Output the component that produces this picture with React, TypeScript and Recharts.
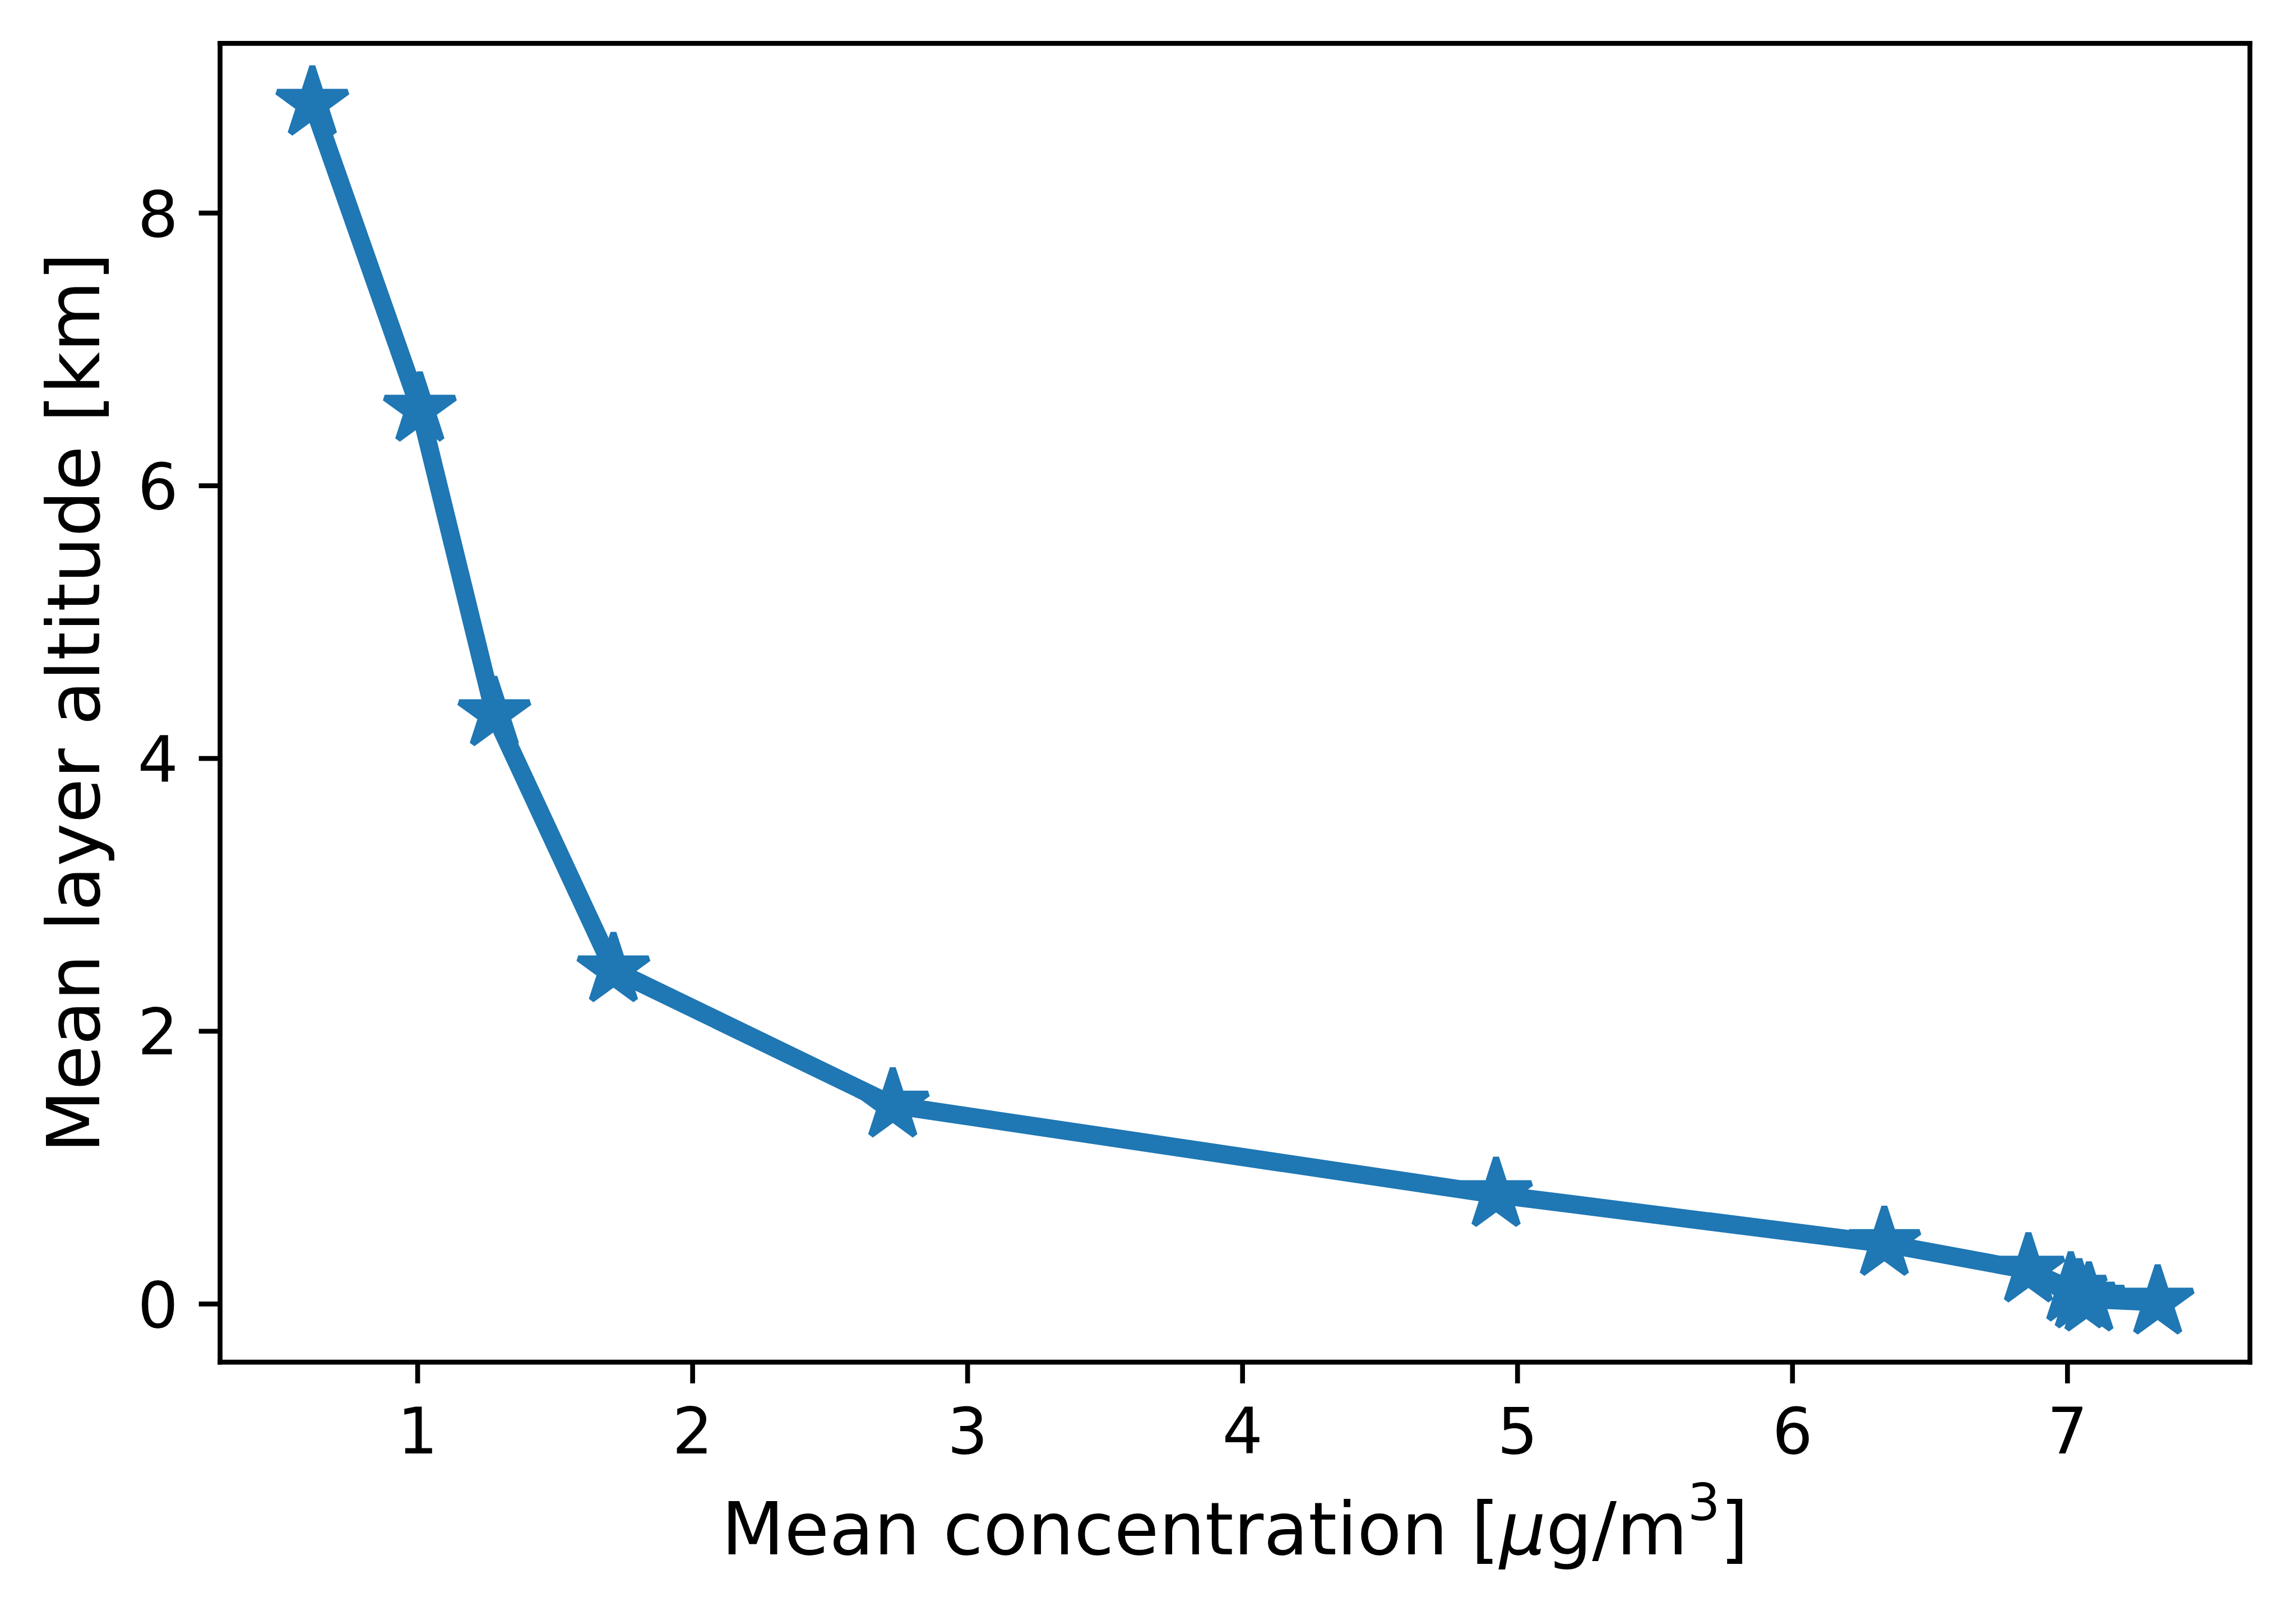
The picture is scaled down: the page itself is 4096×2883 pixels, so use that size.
import React from 'react';
import { LineChart, Line, XAxis, YAxis, ReferenceLine } from 'recharts';

// Mean concentration [µg/m3] (x) and mean layer altitude [km] (y)
const concentration = [0.617, 1.008, 1.279, 1.712, 2.728, 4.922, 6.334, 6.858, 7.012, 7.043, 7.078, 7.328];
const altitude = [8.805, 6.561, 4.328, 2.45, 1.458, 0.802, 0.443, 0.248, 0.108, 0.058, 0.035, 0.013];
const xTicks = [1, 2, 3, 4, 5, 6, 7];
const yTicks = [0, 2, 4, 6, 8];

const data = concentration.map((x, i) => ({ x, y: altitude[i] }));

// matplotlib-like 5% autoscale margins
function padded(arr: number[]): [number, number] {
  const mn = Math.min(...arr);
  const mx = Math.max(...arr);
  const r = mx - mn;
  return [mn - 0.05 * r, mx + 0.05 * r];
}
const xDomain = padded(concentration);
const yDomain = padded(altitude);

const W = 4096;
const H = 2883;
const PLOT_LEFT = 392.6;
const PLOT_TOP = 77.3;
const PLOT_RIGHT = 4013.8;
const PLOT_BOTTOM = 2430.1;
const XAXIS_H = 400;
const YAXIS_W = 350;
const COLOR = '#1f77b4';
const FONT = '"DejaVu Sans", sans-serif';
const TICK_FS = 114;
const LABEL_FS = 130;
const SPINE = 8.66;
const TICK_LEN = 37.9;
const LINE_W = 32.5;
const STAR_R = 66;
const STAR_EDGE = 10.8;

const spineStyle = { stroke: '#000', strokeWidth: SPINE, strokeLinecap: 'square' as const };
const tickLineStyle = { stroke: '#000', strokeWidth: SPINE };

const StarDot = (props: any) => {
  const { cx, cy, index } = props;
  if (cx == null || cy == null) return <g key={`s-${index}`} />;
  const pts: string[] = [];
  for (let i = 0; i < 10; i++) {
    const a = (-90 + i * 36) * (Math.PI / 180);
    const rr = i % 2 === 0 ? STAR_R : STAR_R * 0.381966;
    pts.push(`${cx + rr * Math.cos(a)},${cy + rr * Math.sin(a)}`);
  }
  return (
    <polygon
      key={`s-${index}`}
      points={pts.join(' ')}
      fill={COLOR}
      stroke={COLOR}
      strokeWidth={STAR_EDGE}
      strokeLinejoin="bevel"
    />
  );
};

const XTick = (props: any) => {
  const { x, y, payload } = props;
  return (
    <text x={x} y={y + 124.5} textAnchor="middle" fontFamily={FONT} fontSize={TICK_FS} fill="#000">
      {payload.value}
    </text>
  );
};

const YTick = (props: any) => {
  const { x, y, payload } = props;
  return (
    <text x={x - 36.7} y={y + 41.6} textAnchor="end" fontFamily={FONT} fontSize={TICK_FS} fill="#000">
      {payload.value}
    </text>
  );
};

const XLabel = () => {
  const cx = (PLOT_LEFT + PLOT_RIGHT) / 2;
  return (
    <text x={cx} y={2773} textAnchor="middle" fontFamily={FONT} fontSize={LABEL_FS} fill="#000">
      Mean concentration [<tspan fontStyle="italic">μ</tspan>g/m
      <tspan fontSize={LABEL_FS * 0.7} dy={-61}>3</tspan>
      <tspan dy={61}>]</tspan>
    </text>
  );
};

const YLabel = () => {
  const x = 176.8;
  const y = (PLOT_TOP + PLOT_BOTTOM) / 2;
  return (
    <text
      x={x}
      y={y}
      transform={`rotate(-90, ${x}, ${y})`}
      textAnchor="middle"
      fontFamily={FONT}
      fontSize={LABEL_FS}
      fill="#000"
    >
      Mean layer altitude [km]
    </text>
  );
};

export default function App() {
  return (
    <div style={{ position: 'absolute', left: 0, top: 0, width: W, height: H, background: '#fff' }}>
      <LineChart
        width={W}
        height={H}
        data={data}
        margin={{
          top: PLOT_TOP,
          left: PLOT_LEFT - YAXIS_W,
          right: W - PLOT_RIGHT,
          bottom: H - PLOT_BOTTOM - XAXIS_H,
        }}
      >
        <XAxis
          dataKey="x"
          type="number"
          domain={xDomain}
          allowDataOverflow
          ticks={xTicks}
          interval={0}
          height={XAXIS_H}
          tickSize={TICK_LEN}
          tickMargin={0}
          tick={<XTick />}
          tickLine={tickLineStyle}
          axisLine={spineStyle}
          label={{ content: () => <XLabel /> }}
        />
        <YAxis
          type="number"
          domain={yDomain}
          allowDataOverflow
          ticks={yTicks}
          interval={0}
          width={YAXIS_W}
          tickSize={TICK_LEN}
          tickMargin={0}
          tick={<YTick />}
          tickLine={tickLineStyle}
          axisLine={spineStyle}
          label={{ content: () => <YLabel /> }}
        />
        <ReferenceLine y={yDomain[1]} stroke="#000" strokeWidth={SPINE} strokeLinecap="square" />
        <ReferenceLine x={xDomain[1]} stroke="#000" strokeWidth={SPINE} strokeLinecap="square" />
        <Line
          dataKey="y"
          type="linear"
          stroke={COLOR}
          strokeWidth={LINE_W}
          strokeLinejoin="round"
          strokeLinecap="square"
          dot={StarDot}
          activeDot={false}
          isAnimationActive={false}
        />
      </LineChart>
    </div>
  );
}
